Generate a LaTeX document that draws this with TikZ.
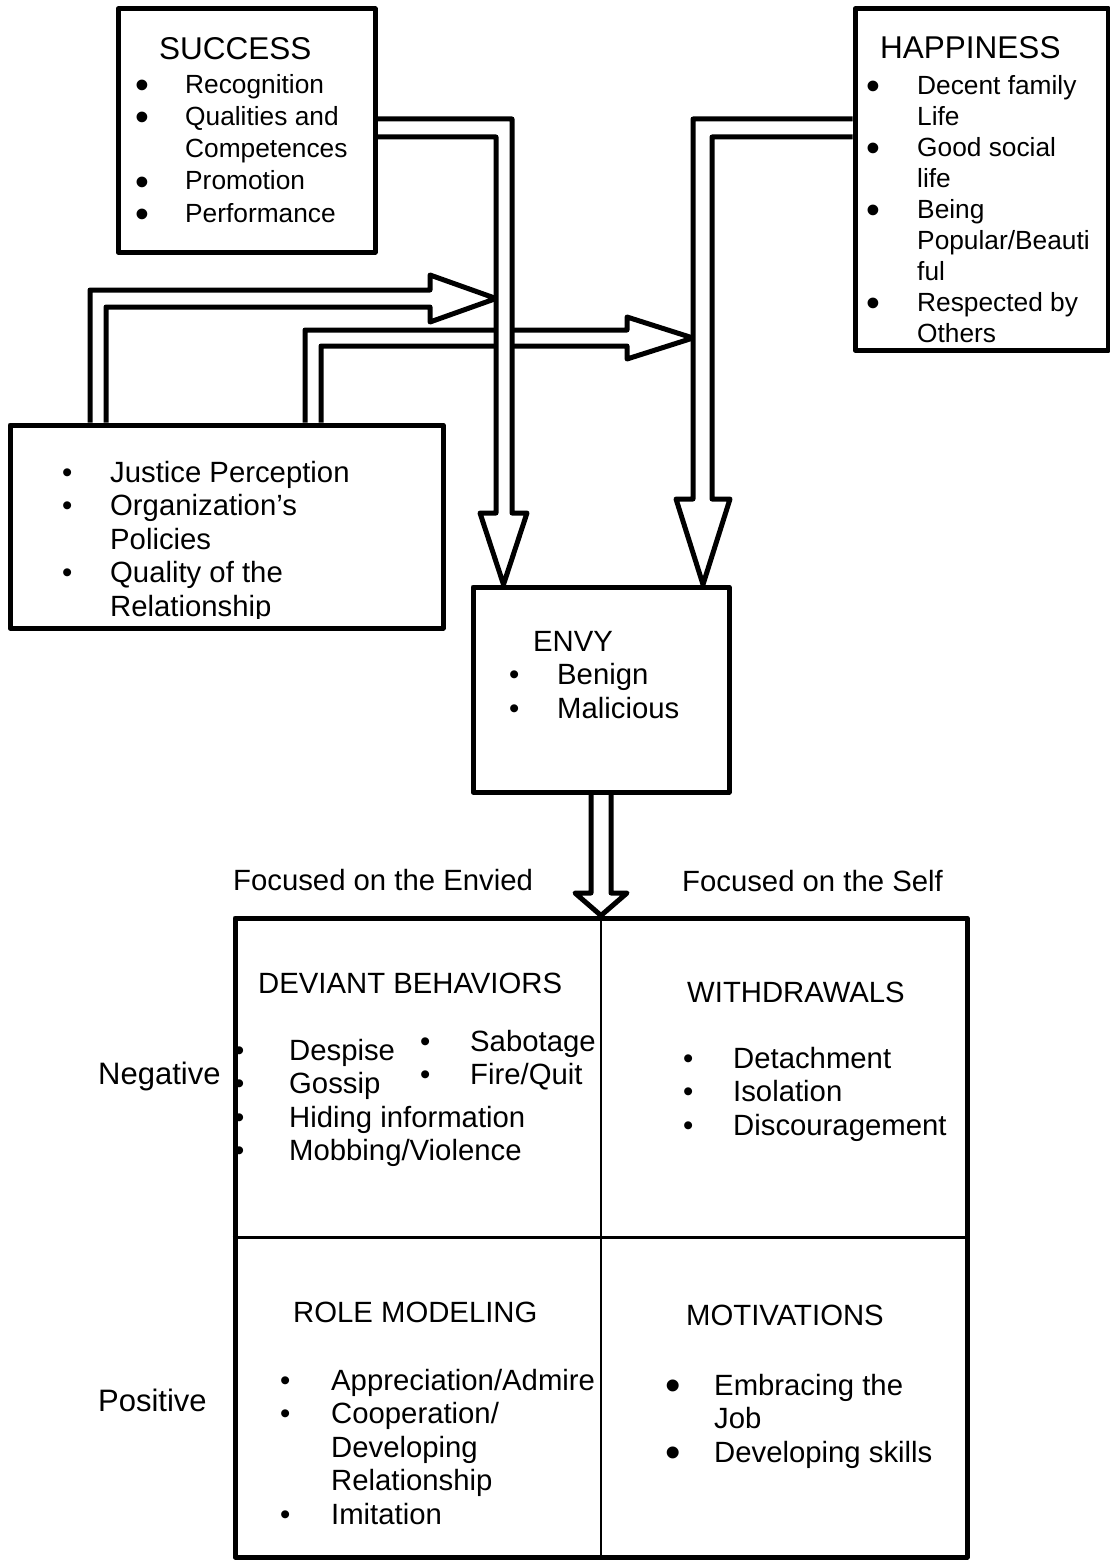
\documentclass[tikz,border=0pt]{standalone}
\usepackage{fontspec}
\setmainfont{Liberation Sans}
\usetikzlibrary{backgrounds}

\newcommand\smb[1]{\makebox[#1pt][l]{\textbullet}}
\newcommand\bigb[1]{\makebox[#1pt][l]{\raisebox{-.2em}{\scalebox{1.5}{\textbullet}}}}
\newcommand\ind[1]{\hspace*{#1pt}}
\newcommand\boxtitle[1]{{\fontsize{31.5}{32}\selectfont #1}}

\begin{document}
\begin{tikzpicture}
      [x=1pt, y=-1pt,
       box/.style={
           draw=black, line width=5pt,
           line join=round,
           inner sep=0pt
         },
       blockarrow/.style={
           draw=black, line width=5pt,
           fill=white, line join=round
         },
       txt/.style={
           anchor=base west, inner sep=0pt,
           align=left,
           font=\fontsize{29.3}{33.5}\selectfont
         },
       smalltxt/.style={txt, font=\fontsize{26.3}{32.3}\selectfont},
       sidetxt/.style={txt, font=\fontsize{31}{36}\selectfont},
       ]
    \useasboundingbox (0,0) rectangle (1110,1560);

    \node [box, minimum width=257pt, minimum height=243pt] (success) at (246.5,130.5) {};
    \node [box, minimum width=253pt, minimum height=341pt] (happy) at (981.5,179.5) {};
    \node [box, minimum width=433pt, minimum height=203pt] (justice) at (226.5,526.5) {};
    \node [box, minimum width=256pt, minimum height=205pt] (envy) at (601,689.5) {};
    \node [box, minimum width=732pt, minimum height=639pt] (grid) at (601,1237.5) {};
    \draw [line width=2.5pt] (grid.north) -- (grid.south);
    \draw [line width=2.5pt] (grid.west) -- (grid.east);

    \begin{scope}[on background layer]
      \draw [blockarrow] (justice.north -| 90,0) -- (90,290) -- (430,290) -- (430,275)
        -- (496,298.5) -- (430,322) -- (430,307) -- (106,307) -- (justice.north -| 106,0);
      \draw [blockarrow] (justice.north -| 305,0) -- (305,330) -- (627,330) -- (627,317)
        -- (693,338) -- (627,359) -- (627,346) -- (321,346) -- (justice.north -| 321,0);
      \draw [blockarrow] (success.east |- 0,119) -- (512,119) -- (512,513) -- (527,513)
        -- (envy.north -| 503.5,0) -- (480,513) -- (496,513) -- (496,137) -- (success.east |- 0,137);
      \draw [blockarrow] (happy.west |- 0,119) -- (693,119) -- (693,499) -- (676,499)
        -- (envy.north -| 703,0) -- (730,499) -- (712,499) -- (712,137) -- (happy.west |- 0,137);
      \draw [blockarrow] (envy.south -| 591,0) -- (591,893) -- (575,893) -- (grid.north)
        -- (627,893) -- (611,893) -- (envy.south -| 611,0);
    \end{scope}

    \node [smalltxt] (successlist) at (135,222.2) {
      \ind{24}\boxtitle{SUCCESS}\\[1.7pt]
      \bigb{50}Recognition\\
      \bigb{50}Qualities and\\
      \ind{50}Competences\\
      \bigb{50}Promotion\\
      \bigb{50}Performance
    };

    \node [smalltxt, font=\fontsize{26.3}{31.1}\selectfont] (happylist) at (866,342.8) {
      \ind{14}\boxtitle{HAPPINESS}\\[4.9pt]
      \bigb{51}Decent family\\
      \ind{51}Life\\
      \bigb{51}Good social\\
      \ind{51}life\\
      \bigb{51}Being\\
      \ind{51}Popular/Beauti\\
      \ind{51}ful\\
      \bigb{51}Respected by\\
      \ind{51}Others
    };

    \begin{scope}
      \clip (justice.north west) rectangle (443,618);
      \node [txt] (justicelist) at (62,616) {
        \smb{48}Justice Perception\\
        \smb{48}Organization’s\\
        \ind{48}Policies\\
        \smb{48}Quality of the\\
        \ind{48}Relationship
      };
    \end{scope}

    \node [txt] (envylist) at (509,718) {
      \ind{24}ENVY\\
      \smb{48}Benign\\
      \smb{48}Malicious
    };

    \node [txt] (envied) at (233,890) {Focused on the Envied};
    \node [txt] (self) at (682,891) {Focused on the Self};
    \node [sidetxt] (negative) at (98,1084) {Negative};
    \node [sidetxt] (positive) at (98,1411) {Positive};

    \node [txt] (deviant) at (258,993) {DEVIANT BEHAVIORS};
    \node [txt] (deviantlist) at (234,1160.5) {
      \smb{55}Despise\\
      \smb{55}Gossip\\
      \smb{55}Hiding information\\
      \smb{55}Mobbing/Violence
    };
    \node [txt] (deviantlist2) at (420,1084.5) {
      \smb{50}Sabotage\\
      \smb{50}Fire/Quit
    };

    \node [txt] (withdraw) at (687,1002) {WITHDRAWALS};
    \node [txt] (withdrawlist) at (683,1135) {
      \smb{50}Detachment\\
      \smb{50}Isolation\\
      \smb{50}Discouragement
    };

    \node [txt] (role) at (293,1322) {ROLE MODELING};
    \node [txt] (rolelist) at (280,1524) {
      \smb{51}Appreciation/Admire\\
      \smb{51}Cooperation/\\
      \ind{51}Developing\\
      \ind{51}Relationship\\
      \smb{51}Imitation
    };

    \node [txt] (motiv) at (686,1325) {MOTIVATIONS};
    \node [txt] (motivlist) at (665,1462) {
      \bigb{49}Embracing the\\
      \ind{49}Job\\
      \bigb{49}Developing skills
    };

  \end{tikzpicture}
\end{document}
